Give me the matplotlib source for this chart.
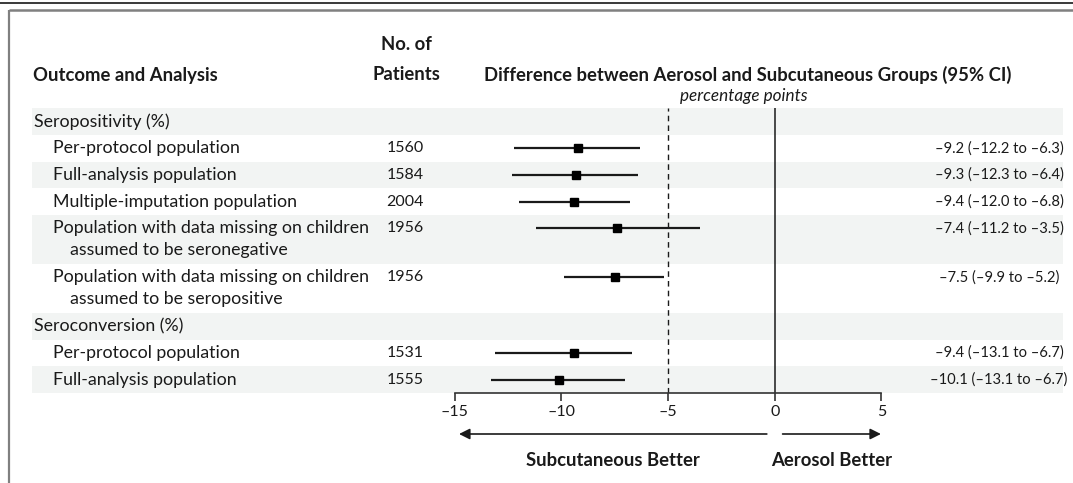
import math

import matplotlib
import matplotlib.pyplot as plt
from matplotlib.patches import Rectangle

matplotlib.use("Agg")

plt.rcParams["font.family"] = ["Lato", "DejaVu Sans"]

_INK = "#1a1a1a"
_BAND = "#f2f4f3"
_FRAME = "#808080"

W, H = 1073, 483
FS = 12.8      # body text
FS_B = 13.3    # bold headers
FS_NUM = 11.5  # numeric columns
FS_CI = 10.6   # estimate (95% CI) column

# ---------------------------------------------------------------------------
# Data (top to bottom)
# ---------------------------------------------------------------------------
labels = [
    "Seropositivity (%)",
    "Per-protocol population",
    "Full-analysis population",
    "Multiple-imputation population",
    "Population with data missing on children",
    "Population with data missing on children",
    "Seroconversion (%)",
    "Per-protocol population",
    "Full-analysis population",
]
label_line2 = ["", "", "", "", "assumed to be seronegative",
               "assumed to be seropositive", "", "", ""]
is_group = [True, False, False, False, False, False, True, False, False]
n_patients = ["", "1560", "1584", "2004", "1956", "1956", "", "1531", "1555"]
estimate = [None, -9.2, -9.3, -9.4, -7.4, -7.5, None, -9.4, -10.1]
ci_low = [None, -12.2, -12.3, -12.0, -11.2, -9.9, None, -13.1, -13.3]
ci_high = [None, -6.3, -6.4, -6.8, -3.5, -5.2, None, -6.7, -7.0]
ci_text = [
    "",
    "\u20139.2 (\u201312.2 to \u20136.3)",
    "\u20139.3 (\u201312.3 to \u20136.4)",
    "\u20139.4 (\u201312.0 to \u20136.8)",
    "\u20137.4 (\u201311.2 to \u20133.5)",
    "\u20137.5 (\u20139.9 to \u20135.2)",
    "",
    "\u20139.4 (\u201313.1 to \u20136.7)",
    "\u201310.1 (\u201313.1 to \u20136.7)",
]
x_ticks = [-15, -10, -5, 0, 5]

# ---------------------------------------------------------------------------
# Layout (pixel units)
# ---------------------------------------------------------------------------
TABLE_TOP = 108.3
AXIS_Y = 393.0
ROW_H = 26.67
ROW_H2 = 49.0
X_LEFT_BAND, X_RIGHT_BAND = 31.7, 1063
X_ZERO, X_PER_UNIT = 774.7, 21.33
HEAD_Y = 75

fig = plt.figure(figsize=(W / 100, H / 100), dpi=100)
bg = fig.add_axes([0, 0, 1, 1])
bg.set_xlim(0, W)
bg.set_ylim(H, 0)
bg.axis("off")

# frame: double rule on top, grey rule on the left
bg.plot([0, W], [3.3, 3.3], color="#2a2a2a", lw=1.3, solid_capstyle="butt")
bg.plot([9, W], [10, 10], color=_FRAME, lw=1.8, solid_capstyle="butt")
bg.plot([9, 9], [10, H], color=_FRAME, lw=1.6, solid_capstyle="butt")

# headers
bg.text(33, HEAD_Y, "Outcome and Analysis", fontsize=FS_B, fontweight="bold",
        color=_INK, ha="left", va="center")
bg.text(406, HEAD_Y - 30, "No. of", fontsize=FS_B, fontweight="bold",
        color=_INK, ha="center", va="center")
bg.text(406, HEAD_Y, "Patients", fontsize=FS_B, fontweight="bold",
        color=_INK, ha="center", va="center")
bg.text(484, HEAD_Y, "Difference between Aerosol and Subcutaneous Groups (95% CI)",
        fontsize=FS_B, fontweight="bold", color=_INK, ha="left", va="center")
bg.text(744, 96, "percentage points", fontsize=12.3, fontstyle="italic",
        color=_INK, ha="center", va="center")

# rows
row_mid = []
y = TABLE_TOP
for i in range(len(labels)):
    h = ROW_H2 if label_line2[i] else ROW_H
    row_mid.append(y + ROW_H / 2)
    if i % 2 == 0:
        bg.add_patch(Rectangle((X_LEFT_BAND, y), X_RIGHT_BAND - X_LEFT_BAND, h,
                               facecolor=_BAND, edgecolor="none", zorder=0))
    y += h

for i, lab in enumerate(labels):
    ym = row_mid[i]
    x = 34 if is_group[i] else 53
    bg.text(x, ym, lab, fontsize=FS, color=_INK, ha="left", va="center")
    if label_line2[i]:
        bg.text(x + 17, ym + 22, label_line2[i], fontsize=FS, color=_INK,
                ha="left", va="center")
    if n_patients[i]:
        bg.text(405, ym, n_patients[i], fontsize=FS_NUM, color=_INK,
                ha="center", va="center")
    if ci_text[i]:
        bg.text(999, ym, ci_text[i], fontsize=FS_CI, color=_INK,
                ha="center", va="center")

# ---------------------------------------------------------------------------
# Forest plot axes
# ---------------------------------------------------------------------------
x0 = X_ZERO + x_ticks[0] * X_PER_UNIT
x1 = X_ZERO + x_ticks[-1] * X_PER_UNIT
ax = fig.add_axes([x0 / W, (H - AXIS_Y) / H, (x1 - x0) / W,
                   (AXIS_Y - TABLE_TOP) / H])
ax.set_facecolor("none")
ax.set_xlim(x_ticks[0], x_ticks[-1])
ax.set_ylim(AXIS_Y, TABLE_TOP)

ax.axvline(0, color=_INK, lw=1.1, zorder=1)
ax.axvline(-5, color=_INK, lw=1.0, ls=(0, (4, 3)), zorder=1)

for i in range(len(labels)):
    if estimate[i] is None:
        continue
    ym = row_mid[i]
    ax.hlines(ym, ci_low[i], ci_high[i], color=_INK, lw=1.6, zorder=2)
    ax.plot(estimate[i], ym, "s", color="black", ms=5.2, zorder=3)

for side in ("top", "left", "right"):
    ax.spines[side].set_visible(False)
ax.spines["bottom"].set_linewidth(1.2)
ax.spines["bottom"].set_color("#333333")
ax.spines["bottom"].set_bounds(x_ticks[0], x_ticks[-1])
ax.set_xticks(x_ticks)
ax.set_xticklabels([f"{t}".replace("-", "\u2013") for t in x_ticks])
ax.set_yticks([])
ax.tick_params(axis="x", direction="out", length=6, width=1.2,
               color="#333333", labelsize=FS_NUM, labelcolor=_INK, pad=3)

# direction arrows and labels
ARROW_Y = 434
arrow_kw = dict(arrowstyle="-|>", color=_INK, lw=1.2, mutation_scale=16,
                shrinkA=0, shrinkB=0)
ax.annotate("", xy=(-14.8, ARROW_Y), xytext=(-0.37, ARROW_Y),
            arrowprops=arrow_kw, annotation_clip=False)
ax.annotate("", xy=(4.98, ARROW_Y), xytext=(0.37, ARROW_Y),
            arrowprops=arrow_kw, annotation_clip=False)
ax.text((-14.8 - 0.37) / 2, 461, "Subcutaneous Better", fontsize=FS_B,
        fontweight="bold", color=_INK, ha="center", va="center", clip_on=False)
ax.text((4.98 + 0.37) / 2, 461, "Aerosol Better", fontsize=FS_B,
        fontweight="bold", color=_INK, ha="center", va="center", clip_on=False)

fig.savefig("out.png", dpi=100, facecolor="white")
